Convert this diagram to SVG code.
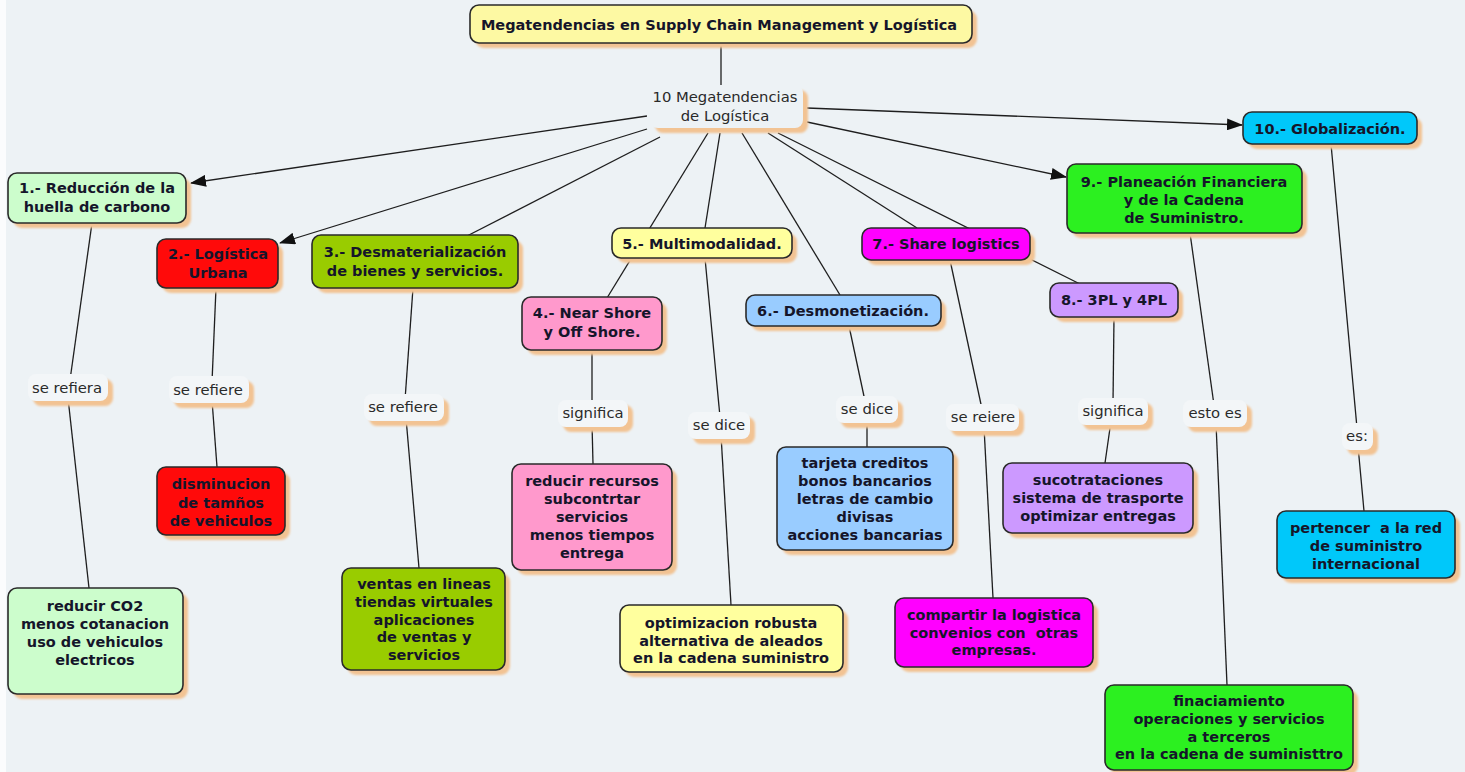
<svg xmlns="http://www.w3.org/2000/svg" width="1465" height="772" viewBox="0 0 1465 772">
  <defs>
    <filter id="soft" x="-10%" y="-10%" width="120%" height="130%">
      <feGaussianBlur stdDeviation="1.3"/>
    </filter>
    <marker id="arrow" markerWidth="16" markerHeight="12" refX="15" refY="6" orient="auto" markerUnits="userSpaceOnUse">
      <path d="M0,0 L16,6 L0,12 Z" fill="#111"/>
    </marker>
    <style>
      .bg { fill: #edf2f5; }
      .sh { fill: #f2c393; filter: url(#soft); }
      .box { stroke: #2a2a2a; stroke-width: 1.6; }
      .lbl { fill: #f3f6f8; }
      .nt { font-family: "DejaVu Sans", Verdana, sans-serif; font-weight: bold; font-size: 14.5px; fill: #15152a; text-anchor: middle; }
      .lt { font-family: "DejaVu Sans", Verdana, sans-serif; font-size: 14.8px; fill: #2a2a2a; text-anchor: middle; }
      .ln { stroke: #1e1e1e; stroke-width: 1.3; fill: none; }
      .arr { marker-end: url(#arrow); }
    </style>
  </defs>

  <rect class="bg" x="0" y="0" width="1465" height="772"/>
  <rect x="0" y="0" width="6" height="772" fill="#fbfcfd"/>

  <!-- connectors -->
  <g id="connectors">
    <path class="ln" d="M721,43 L721,88"/>
    <path class="ln arr" d="M647,116 L191,183"/>
    <path class="ln arr" d="M647,129 L280,243"/>
    <path class="ln" d="M660,137 L467,236"/>
    <path class="ln" d="M708,133 L607,298"/>
    <path class="ln" d="M720,133 L705,228"/>
    <path class="ln" d="M742,133 L840,295"/>
    <path class="ln" d="M768,133 L917,228"/>
    <path class="ln" d="M778,133 L1080,284"/>
    <path class="ln arr" d="M807,122 L1066,177"/>
    <path class="ln arr" d="M807,108 L1242,125"/>

    <path class="ln" d="M92,223 L70,380"/>
    <path class="ln" d="M68,398 L89,588"/>
    <path class="ln" d="M216,288 L212,382"/>
    <path class="ln" d="M212,400 L217,467"/>
    <path class="ln" d="M413,288 L405,400"/>
    <path class="ln" d="M406,418 L419,568"/>
    <path class="ln" d="M592,350 L592,405"/>
    <path class="ln" d="M592,423 L593,464"/>
    <path class="ln" d="M705,258 L720,417"/>
    <path class="ln" d="M721,435 L731,605"/>
    <path class="ln" d="M849,326 L865,401"/>
    <path class="ln" d="M867,419 L867,447"/>
    <path class="ln" d="M950,260 L982,409"/>
    <path class="ln" d="M984,427 L993,598"/>
    <path class="ln" d="M1114,317 L1113,403"/>
    <path class="ln" d="M1111,421 L1105,463"/>
    <path class="ln" d="M1190,233 L1214,405"/>
    <path class="ln" d="M1216,423 L1227,685"/>
    <path class="ln" d="M1331,144 L1357,428"/>
    <path class="ln" d="M1358,446 L1364,511"/>
  </g>

  <!-- main title -->
  <g id="title">
    <rect class="sh" x="475" y="10" width="502" height="38" rx="9"/>
    <rect class="box" x="470" y="5" width="502" height="38" rx="9" fill="#fdf9a3"/>
    <text class="nt" x="719" y="30" font-size="15px">Megatendencias en Supply Chain Management y Logística</text>
  </g>

  <!-- central concept -->
  <g id="central">
    <rect class="sh" x="655" y="90" width="153" height="43" rx="8"/>
    <rect x="650" y="85" width="153" height="43" rx="8" fill="#edf2f5"/>
    <text class="lt" x="725" y="102"><tspan x="725">10 Megatendencias</tspan><tspan x="725" dy="19">de Logística</tspan></text>
  </g>

  <!-- first level -->
  <g id="n1">
    <rect class="sh" x="13" y="178" width="178" height="50" rx="9"/>
    <rect class="box" x="8" y="173" width="178" height="50" rx="9" fill="#ccfdcc"/>
    <text class="nt" x="97" y="193"><tspan x="97">1.- Reducción de la</tspan><tspan x="97" dy="19">huella de carbono</tspan></text>
  </g>
  <g id="n2">
    <rect class="sh" x="162" y="244" width="121" height="49" rx="9"/>
    <rect class="box" x="157" y="239" width="121" height="49" rx="9" fill="#ff0a0a"/>
    <text class="nt" x="218" y="259" fill="#7a0000"><tspan x="218">2.- Logística</tspan><tspan x="218" dy="19">Urbana</tspan></text>
  </g>
  <g id="n3">
    <rect class="sh" x="317" y="240" width="206" height="53" rx="9"/>
    <rect class="box" x="312" y="235" width="206" height="53" rx="9" fill="#99cc00"/>
    <text class="nt" x="415" y="257"><tspan x="415">3.- Desmaterialización</tspan><tspan x="415" dy="19">de bienes y servicios.</tspan></text>
  </g>
  <g id="n4">
    <rect class="sh" x="527" y="302" width="140" height="53" rx="9"/>
    <rect class="box" x="522" y="297" width="140" height="53" rx="9" fill="#ff99cc"/>
    <text class="nt" x="592" y="318"><tspan x="592">4.- Near Shore</tspan><tspan x="592" dy="19">y Off Shore.</tspan></text>
  </g>
  <g id="n5">
    <rect class="sh" x="617" y="233" width="180" height="30" rx="9"/>
    <rect class="box" x="612" y="228" width="180" height="30" rx="9" fill="#ffff9e"/>
    <text class="nt" x="702" y="249">5.- Multimodalidad.</text>
  </g>
  <g id="n6">
    <rect class="sh" x="751" y="300" width="195" height="31" rx="9"/>
    <rect class="box" x="746" y="295" width="195" height="31" rx="9" fill="#99ccff"/>
    <text class="nt" x="843" y="316">6.- Desmonetización.</text>
  </g>
  <g id="n7">
    <rect class="sh" x="867" y="233" width="168" height="32" rx="9"/>
    <rect class="box" x="862" y="228" width="168" height="32" rx="9" fill="#ff00ff"/>
    <text class="nt" x="946" y="249" fill="#5a005a">7.- Share logistics</text>
  </g>
  <g id="n8">
    <rect class="sh" x="1055" y="288" width="128" height="34" rx="9"/>
    <rect class="box" x="1050" y="283" width="128" height="34" rx="9" fill="#cc99ff"/>
    <text class="nt" x="1114" y="305">8.- 3PL y 4PL</text>
  </g>
  <g id="n9">
    <rect class="sh" x="1072" y="169" width="235" height="69" rx="9"/>
    <rect class="box" x="1067" y="164" width="235" height="69" rx="9" fill="#2cf020"/>
    <text class="nt" x="1184" y="187" fill="#0d2a0d"><tspan x="1184">9.- Planeación Financiera</tspan><tspan x="1184" dy="18">y de la Cadena</tspan><tspan x="1184" dy="18">de Suministro.</tspan></text>
  </g>
  <g id="n10">
    <rect class="sh" x="1248" y="117" width="174" height="32" rx="9"/>
    <rect class="box" x="1243" y="112" width="174" height="32" rx="9" fill="#00c8fa"/>
    <text class="nt" x="1330" y="134">10.- Globalización.</text>
  </g>

  <!-- linking phrases -->
  <g id="l1">
    <rect class="sh" x="33" y="379" width="80" height="27" rx="8"/>
    <rect class="lbl" x="28" y="374" width="80" height="27" rx="8"/>
    <text class="lt" x="67" y="393">se refiera</text>
  </g>
  <g id="l2">
    <rect class="sh" x="174" y="381" width="80" height="27" rx="8"/>
    <rect class="lbl" x="169" y="376" width="80" height="27" rx="8"/>
    <text class="lt" x="208" y="395">se refiere</text>
  </g>
  <g id="l3">
    <rect class="sh" x="369" y="399" width="80" height="27" rx="8"/>
    <rect class="lbl" x="364" y="394" width="80" height="27" rx="8"/>
    <text class="lt" x="403" y="412">se refiere</text>
  </g>
  <g id="l4">
    <rect class="sh" x="563" y="405" width="70" height="27" rx="8"/>
    <rect class="lbl" x="558" y="400" width="70" height="27" rx="8"/>
    <text class="lt" x="593" y="418">significa</text>
  </g>
  <g id="l5">
    <rect class="sh" x="693" y="417" width="62" height="27" rx="8"/>
    <rect class="lbl" x="688" y="412" width="62" height="27" rx="8"/>
    <text class="lt" x="719" y="430">se dice</text>
  </g>
  <g id="l6">
    <rect class="sh" x="841" y="401" width="62" height="27" rx="8"/>
    <rect class="lbl" x="836" y="396" width="62" height="27" rx="8"/>
    <text class="lt" x="867" y="414">se dice</text>
  </g>
  <g id="l7">
    <rect class="sh" x="951" y="409" width="73" height="27" rx="8"/>
    <rect class="lbl" x="946" y="404" width="73" height="27" rx="8"/>
    <text class="lt" x="983" y="422">se reiere</text>
  </g>
  <g id="l8">
    <rect class="sh" x="1083" y="403" width="70" height="27" rx="8"/>
    <rect class="lbl" x="1078" y="398" width="70" height="27" rx="8"/>
    <text class="lt" x="1113" y="416">significa</text>
  </g>
  <g id="l9">
    <rect class="sh" x="1188" y="405" width="64" height="27" rx="8"/>
    <rect class="lbl" x="1183" y="400" width="64" height="27" rx="8"/>
    <text class="lt" x="1215" y="418">esto es</text>
  </g>
  <g id="l10">
    <rect class="sh" x="1347" y="428" width="31" height="27" rx="8"/>
    <rect class="lbl" x="1342" y="423" width="31" height="27" rx="8"/>
    <text class="lt" x="1357" y="441">es:</text>
  </g>

  <!-- detail nodes -->
  <g id="d1">
    <rect class="sh" x="13" y="593" width="175" height="106" rx="9"/>
    <rect class="box" x="8" y="588" width="175" height="106" rx="9" fill="#ccfdcc"/>
    <text class="nt" x="95" y="611"><tspan x="95">reducir CO2</tspan><tspan x="95" dy="18">menos cotanacion</tspan><tspan x="95" dy="18">uso de vehiculos</tspan><tspan x="95" dy="17.5">electricos</tspan></text>
  </g>
  <g id="d2">
    <rect class="sh" x="162" y="472" width="128" height="68" rx="9"/>
    <rect class="box" x="157" y="467" width="128" height="68" rx="9" fill="#ff0a0a"/>
    <text class="nt" x="221" y="489" fill="#7a0000"><tspan x="221">disminucion</tspan><tspan x="221" dy="18.5">de tamños</tspan><tspan x="221" dy="18.5">de vehiculos</tspan></text>
  </g>
  <g id="d3">
    <rect class="sh" x="347" y="573" width="163" height="102" rx="9"/>
    <rect class="box" x="342" y="568" width="163" height="102" rx="9" fill="#99cc00"/>
    <text class="nt" x="424" y="589"><tspan x="424">ventas en lineas</tspan><tspan x="424" dy="18">tiendas virtuales</tspan><tspan x="424" dy="17.5">aplicaciones</tspan><tspan x="424" dy="17.5">de ventas y</tspan><tspan x="424" dy="17.5">servicios</tspan></text>
  </g>
  <g id="d4">
    <rect class="sh" x="517" y="469" width="160" height="106" rx="9"/>
    <rect class="box" x="512" y="464" width="160" height="106" rx="9" fill="#ff99cc"/>
    <text class="nt" x="592" y="486"><tspan x="592">reducir recursos</tspan><tspan x="592" dy="18">subcontrtar</tspan><tspan x="592" dy="18">servicios</tspan><tspan x="592" dy="17.5">menos tiempos</tspan><tspan x="592" dy="18">entrega</tspan></text>
  </g>
  <g id="d5">
    <rect class="sh" x="625" y="610" width="223" height="67" rx="9"/>
    <rect class="box" x="620" y="605" width="223" height="67" rx="9" fill="#ffff9e"/>
    <text class="nt" x="731" y="628"><tspan x="731">optimizacion robusta</tspan><tspan x="731" dy="17.5">alternativa de aleados</tspan><tspan x="731" dy="17.5">en la cadena suministro</tspan></text>
  </g>
  <g id="d6">
    <rect class="sh" x="782" y="452" width="176" height="103" rx="9"/>
    <rect class="box" x="777" y="447" width="176" height="103" rx="9" fill="#99ccff"/>
    <text class="nt" x="865" y="468"><tspan x="865">tarjeta creditos</tspan><tspan x="865" dy="18">bonos bancarios</tspan><tspan x="865" dy="18">letras de cambio</tspan><tspan x="865" dy="18">divisas</tspan><tspan x="865" dy="18">acciones bancarias</tspan></text>
  </g>
  <g id="d7">
    <rect class="sh" x="900" y="603" width="198" height="69" rx="9"/>
    <rect class="box" x="895" y="598" width="198" height="69" rx="9" fill="#ff00ff"/>
    <text class="nt" x="994" y="620" fill="#5a005a"><tspan x="994">compartir la logistica</tspan><tspan x="994" dy="17.5" xml:space="preserve">convenios con  otras</tspan><tspan x="994" dy="17.5">empresas.</tspan></text>
  </g>
  <g id="d8">
    <rect class="sh" x="1008" y="468" width="190" height="70" rx="9"/>
    <rect class="box" x="1003" y="463" width="190" height="70" rx="9" fill="#cc99ff"/>
    <text class="nt" x="1098" y="485"><tspan x="1098">sucotrataciones</tspan><tspan x="1098" dy="18">sistema de trasporte</tspan><tspan x="1098" dy="18">optimizar entregas</tspan></text>
  </g>
  <g id="d9">
    <rect class="sh" x="1110" y="690" width="248" height="85" rx="9"/>
    <rect class="box" x="1105" y="685" width="248" height="85" rx="9" fill="#2cf020"/>
    <text class="nt" x="1229" y="706" fill="#0d2a0d"><tspan x="1229">finaciamiento</tspan><tspan x="1229" dy="18">operaciones y servicios</tspan><tspan x="1229" dy="17.5">a terceros</tspan><tspan x="1229" dy="17.5">en la cadena de suministtro</tspan></text>
  </g>
  <g id="d10">
    <rect class="sh" x="1282" y="516" width="178" height="67" rx="9"/>
    <rect class="box" x="1277" y="511" width="178" height="67" rx="9" fill="#00c8fa"/>
    <text class="nt" x="1366" y="533"><tspan x="1366" xml:space="preserve">pertencer  a la red</tspan><tspan x="1366" dy="17.5">de suministro</tspan><tspan x="1366" dy="18">internacional</tspan></text>
  </g>
</svg>
